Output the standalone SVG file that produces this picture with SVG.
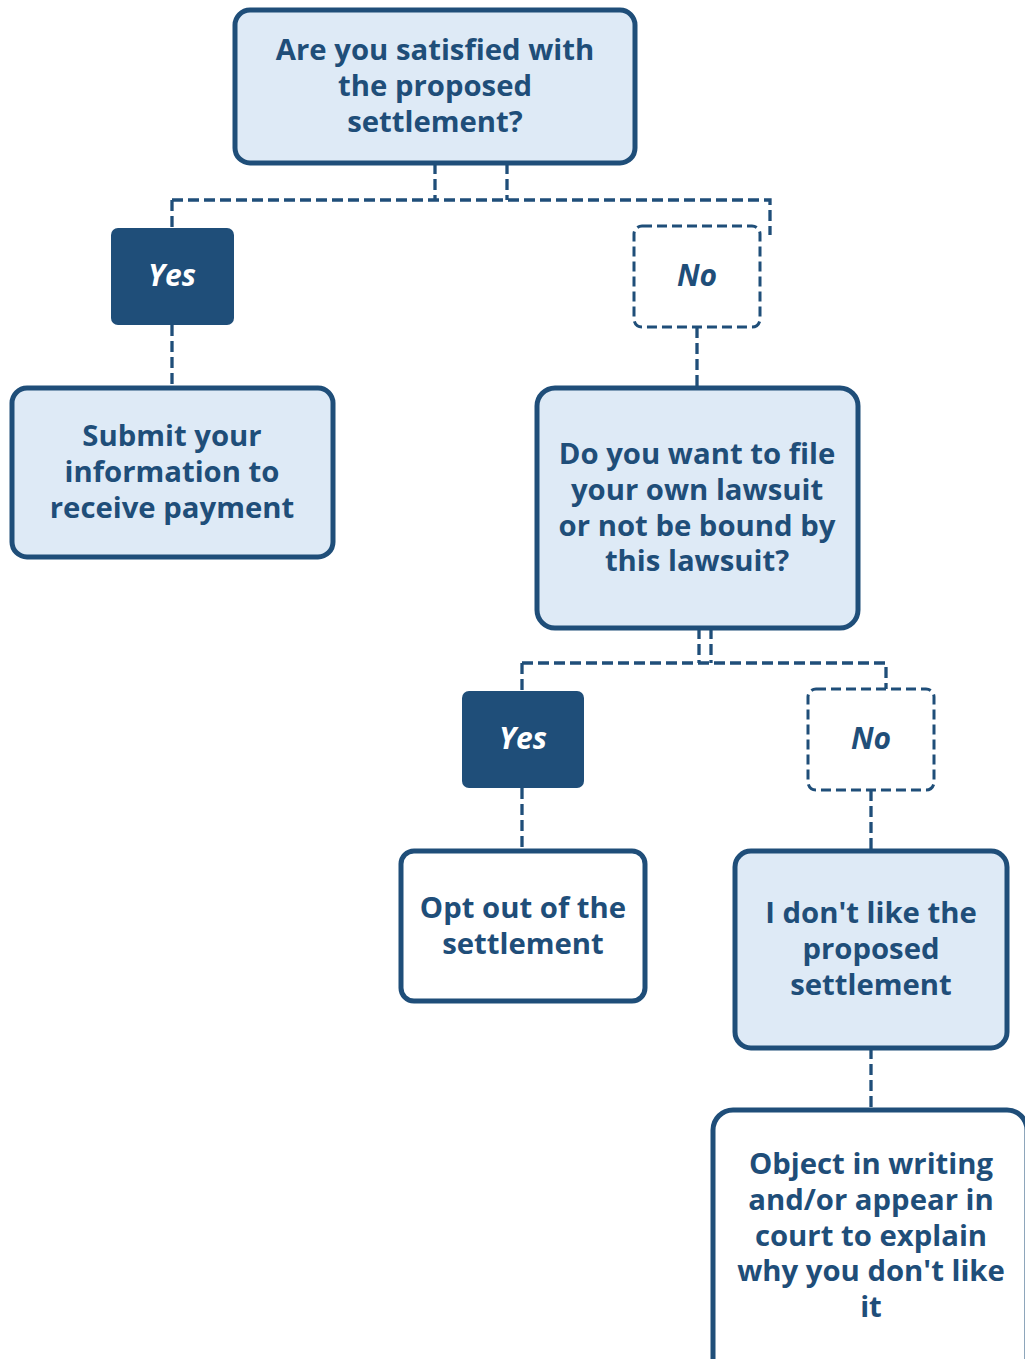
<svg xmlns="http://www.w3.org/2000/svg" width="1025" height="1359" viewBox="0 0 1025 1359">
<style>
.box{stroke:#1f4e79;stroke-width:5}
.light{fill:#deeaf6}
.white{fill:#ffffff}
.ans{fill:#1f4e79}
.dash{fill:#ffffff;stroke:#1f4e79;stroke-width:3;stroke-dasharray:10 5}
.t{font-family:"Open Sans","Noto Sans",sans-serif;font-weight:bold;font-size:29.3px;fill:#1f4e79;text-anchor:middle}
.yn{font-family:"Open Sans","Noto Sans",sans-serif;font-weight:bold;font-style:italic;font-size:30px;text-anchor:middle}
.c{fill:none;stroke:#1f4e79;stroke-width:3.3;stroke-dasharray:11 5}
</style>
<rect width="1025" height="1359" fill="#ffffff"/>
<g id="connectors">
<path class="c" d="M435,163 V200 M507,163 V200 M172,200 H770 V235 M172,200 V229"/>
<path class="c" d="M172,325 V388"/>
<path class="c" d="M697,327 V388"/>
<path class="c" d="M699,628 V663 M711,628 V663 M522,663 H886 V690 M522,663 V691"/>
<path class="c" d="M522,788 V851"/>
<path class="c" d="M871,790 V851"/>
<path class="c" d="M871,1048 V1110"/>
</g>
<g id="q1">
<rect class="box light" x="235" y="10" width="400" height="153" rx="15"/>
<text class="t" x="435" y="60">Are you satisfied with</text>
<text class="t" x="435" y="96">the proposed</text>
<text class="t" x="435" y="132">settlement?</text>
</g>
<g id="yes1">
<rect class="ans" x="111" y="228" width="123" height="97" rx="7"/>
<text class="yn" x="172" y="286" fill="#ffffff">Yes</text>
</g>
<g id="no1">
<rect class="dash" x="634" y="226" width="126" height="101" rx="8"/>
<text class="yn" x="697" y="286" fill="#1f4e79">No</text>
</g>
<g id="submit">
<rect class="box light" x="12" y="388" width="321" height="169" rx="15"/>
<text class="t" x="172" y="446">Submit your</text>
<text class="t" x="172" y="482">information to</text>
<text class="t" x="172" y="518">receive payment</text>
</g>
<g id="q2">
<rect class="box light" x="537" y="388" width="321" height="240" rx="18"/>
<text class="t" x="697" y="464">Do you want to file</text>
<text class="t" x="697" y="500">your own lawsuit</text>
<text class="t" x="697" y="536">or not be bound by</text>
<text class="t" x="697" y="571">this lawsuit?</text>
</g>
<g id="yes2">
<rect class="ans" x="462" y="691" width="122" height="97" rx="7"/>
<text class="yn" x="523" y="749" fill="#ffffff">Yes</text>
</g>
<g id="no2">
<rect class="dash" x="808" y="689" width="126" height="101" rx="8"/>
<text class="yn" x="871" y="749" fill="#1f4e79">No</text>
</g>
<g id="optout">
<rect class="box white" x="401" y="851" width="244" height="150" rx="13"/>
<text class="t" x="523" y="918">Opt out of the</text>
<text class="t" x="523" y="954">settlement</text>
</g>
<g id="dislike">
<rect class="box light" x="735" y="851" width="272" height="197" rx="16"/>
<text class="t" x="871" y="923">I don't like the</text>
<text class="t" x="871" y="959">proposed</text>
<text class="t" x="871" y="995">settlement</text>
</g>
<g id="object">
<rect class="box white" x="713" y="1110" width="314" height="270" rx="20"/>
<text class="t" x="871" y="1174">Object in writing</text>
<text class="t" x="871" y="1210">and/or appear in</text>
<text class="t" x="871" y="1246">court to explain</text>
<text class="t" x="871" y="1281">why you don't like</text>
<text class="t" x="871" y="1317">it</text>
</g>
</svg>
